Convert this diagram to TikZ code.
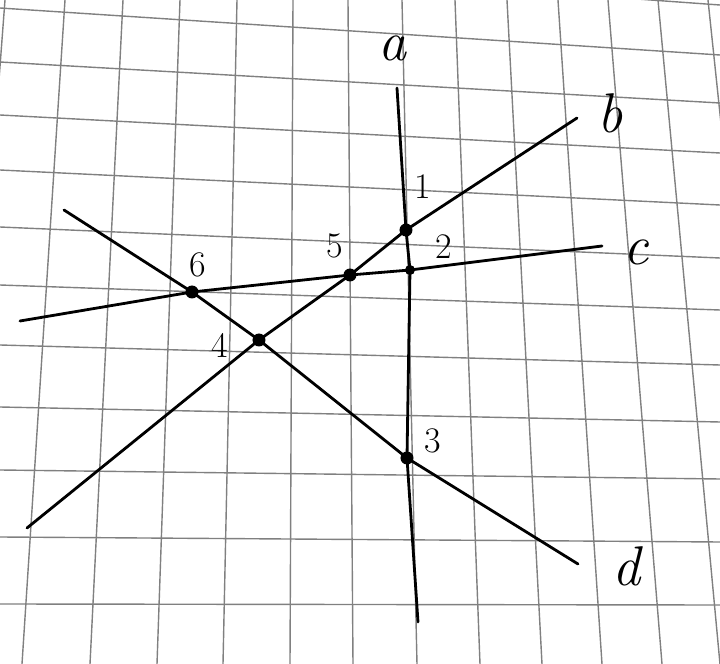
\documentclass[tikz,border=0pt]{standalone}
\usetikzlibrary{positioning}

\begin{document}
\begin{tikzpicture}[
    x=0.5pt, y=-0.5pt,
    pen/.style={line width=1.4pt, black, line cap=round, line join=round},
    dot/.style={circle, fill=black, inner sep=0pt, minimum size=6.5pt},
    tag/.style={font=\fontsize{18}{18}\selectfont},
    linename/.style={font=\fontsize{28}{28}\selectfont\itshape},
    grid line/.style={black!50, line width=0.7pt}
]

% Paper
\useasboundingbox (0,0) rectangle (720,664);
\fill[white] (0,0) rectangle (720,664);
\begin{scope}
\clip (0,0) rectangle (720,664);
\foreach \t/\b in {5/-45, 65/22, 123/90, 180/157, 237/223, 293/290, 348/353,
    402/417, 455/480, 507/542, 558/602, 608/662, 658/720, 708/778}
    \draw[grid line] (\t,0) -- (\b,664);
\foreach \l/\r in {-47/5, 8/55, 62/103, 115/153, 170/205, 227/258, 285/310,
    345/365, 407/422, 470/479, 537/542, 604/605}
    \draw[grid line] (0,\l) -- (720,\r);
\end{scope}

% -------------------------
% Intersection points
% -------------------------
\node[dot] (p1) at (406,230) {};
\node[dot, minimum size=5pt] (p2) at (410,270) {};
\node[dot] (p3) at (407,458) {};
\node[dot] (p4) at (259,340) {};
\node[dot] (p5) at (350,275) {};
\node[dot] (p6) at (192,292) {};

% Line ends
\coordinate (aTop) at (397,88);
\coordinate (aBot) at (418,622);
\coordinate (bStart) at (27,528);
\coordinate (bEnd) at (577,118);
\coordinate (cStart) at (20,321);
\coordinate (cEnd) at (602,246);
\coordinate (dStart) at (64,210);
\coordinate (dEnd) at (578,564);

% -------------------------
% Lines a, b, c, d
% -------------------------
\draw[pen] (aTop) -- (p1.center) -- (p2.center) -- (p3.center) -- (aBot);
\draw[pen] (bStart) -- (p4.center) -- (p5.center) -- (p1.center) -- (bEnd);
\draw[pen] (cStart) -- (p6.center) -- (p5.center) -- (p2.center) -- (cEnd);
\draw[pen] (dStart) -- (p6.center) -- (p4.center) -- (p3.center) -- (dEnd);

% Line names
\node[linename] (la) at (393,48) {a};
\node[linename] (lb) at (610,113) {b};
\node[linename] (lc) at (636,252) {c};
\node[linename] (ld) at (626,566) {d};

% Point numbers
\node[tag] (t1) at (423,187) {1};
\node[tag] (t2) at (444,247) {2};
\node[tag] (t3) at (433,441) {3};
\node[tag] (t4) at (220,345) {4};
\node[tag] (t5) at (335,246) {5};
\node[tag] (t6) at (198,265) {6};

\end{tikzpicture}
\end{document}
